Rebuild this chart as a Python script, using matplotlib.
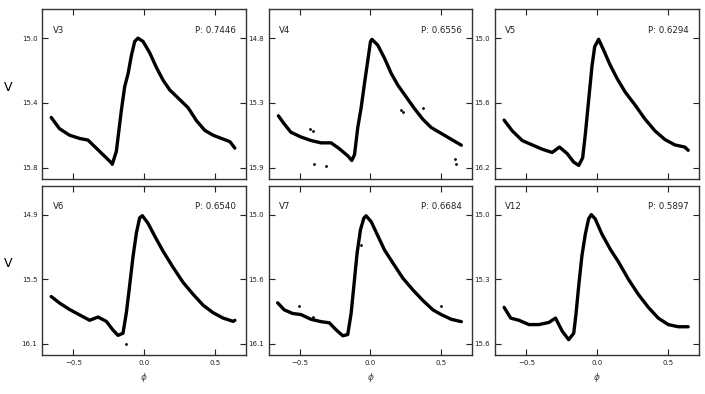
import numpy as np
import matplotlib
matplotlib.use('Agg')
import matplotlib.pyplot as plt

names = ['V3', 'V4', 'V5', 'V6', 'V7', 'V12']
periods = ['0.7446', '0.6556', '0.6294', '0.6540', '0.6684', '0.5897']

# y tick positions and labels for each panel (magnitude axis is inverted)
yticks = [[15.0, 15.4, 15.8], [14.8, 15.35, 15.9], [15.0, 15.6, 16.2],
          [14.9, 15.5, 16.1], [15.0, 15.55, 16.1], [15.0, 15.3, 15.6]]
ytick_labels = [['15.0', '15.4', '15.8'], ['14.8', '15.3', '15.9'], ['15.0', '15.6', '16.2'],
                ['14.9', '15.5', '16.1'], ['15.0', '15.6', '16.1'], ['15.0', '15.3', '15.6']]

# light curves: phase, V magnitude
phase_v3 = [-0.657, -0.598, -0.527, -0.456, -0.397, -0.338, -0.279, -0.232, -0.225, -0.196,
            -0.161, -0.137, -0.113, -0.09, -0.066, -0.043, -0.007, 0.04, 0.087, 0.135, 0.182,
            0.253, 0.312, 0.371, 0.43, 0.489, 0.548, 0.608, 0.643]
mag_v3 = [15.49, 15.56, 15.60, 15.62, 15.63, 15.68, 15.73, 15.77, 15.78, 15.70,
          15.45, 15.30, 15.22, 15.11, 15.02, 15.00, 15.02, 15.09, 15.18, 15.26, 15.32,
          15.38, 15.43, 15.51, 15.57, 15.60, 15.62, 15.64, 15.68]

phase_v4 = [-0.652, -0.61, -0.563, -0.492, -0.421, -0.35, -0.279, -0.22, -0.161, -0.132,
            -0.113, -0.09, -0.066, -0.043, -0.019, 0.0, 0.01, 0.052, 0.099, 0.147, 0.194,
            0.253, 0.312, 0.371, 0.43, 0.501, 0.572, 0.643]
mag_v4 = [15.46, 15.53, 15.60, 15.64, 15.67, 15.69, 15.69, 15.74, 15.80, 15.84,
          15.79, 15.56, 15.39, 15.19, 14.99, 14.83, 14.81, 14.86, 14.97, 15.10, 15.20,
          15.30, 15.40, 15.49, 15.56, 15.61, 15.66, 15.71]

phase_v5 = [-0.657, -0.599, -0.528, -0.458, -0.387, -0.317, -0.265, -0.211, -0.164, -0.129,
            -0.101, -0.082, -0.059, -0.035, -0.016, 0.012, 0.047, 0.094, 0.141, 0.2, 0.27,
            0.34, 0.411, 0.481, 0.552, 0.622, 0.646]
mag_v5 = [15.76, 15.86, 15.95, 15.99, 16.03, 16.06, 16.01, 16.07, 16.15, 16.18,
          16.11, 15.89, 15.58, 15.26, 15.08, 15.01, 15.11, 15.25, 15.37, 15.50, 15.62,
          15.75, 15.86, 15.94, 15.99, 16.01, 16.04]

phase_v6 = [-0.657, -0.598, -0.527, -0.456, -0.385, -0.326, -0.267, -0.22, -0.184, -0.149,
            -0.125, -0.102, -0.078, -0.054, -0.031, -0.012, 0.028, 0.076, 0.135, 0.206,
            0.277, 0.348, 0.418, 0.489, 0.56, 0.631, 0.643]
mag_v6 = [15.66, 15.72, 15.78, 15.83, 15.88, 15.85, 15.89, 15.97, 16.02, 16.00,
          15.81, 15.56, 15.29, 15.07, 14.93, 14.91, 14.98, 15.10, 15.24, 15.39,
          15.53, 15.64, 15.74, 15.81, 15.86, 15.89, 15.88]

phase_v7 = [-0.657, -0.61, -0.552, -0.492, -0.421, -0.35, -0.291, -0.243, -0.196, -0.161,
            -0.137, -0.118, -0.095, -0.071, -0.047, -0.031, 0.005, 0.052, 0.099, 0.158,
            0.229, 0.3, 0.371, 0.442, 0.501, 0.572, 0.643]
mag_v7 = [15.75, 15.81, 15.84, 15.85, 15.89, 15.91, 15.92, 15.98, 16.03, 16.02,
          15.84, 15.61, 15.33, 15.13, 15.03, 15.01, 15.06, 15.18, 15.30, 15.41,
          15.54, 15.64, 15.73, 15.81, 15.85, 15.89, 15.91]

phase_v12 = [-0.657, -0.61, -0.552, -0.481, -0.411, -0.34, -0.293, -0.246, -0.2, -0.164,
             -0.148, -0.129, -0.106, -0.082, -0.059, -0.04, -0.012, 0.035, 0.094, 0.153,
             0.223, 0.293, 0.364, 0.434, 0.505, 0.575, 0.646]
mag_v12 = [15.43, 15.48, 15.49, 15.51, 15.51, 15.50, 15.48, 15.54, 15.58, 15.55,
           15.46, 15.33, 15.19, 15.09, 15.02, 15.00, 15.02, 15.09, 15.16, 15.22,
           15.30, 15.37, 15.43, 15.48, 15.51, 15.52, 15.52]

# stray points off the main curve
out_phase_v4 = [-0.43, -0.41, -0.397, -0.314, 0.217, 0.23, 0.371, 0.608, 0.6]
out_mag_v4 = [15.57, 15.59, 15.87, 15.89, 15.41, 15.43, 15.39, 15.87, 15.83]
out_phase_v6 = [-0.13]
out_mag_v6 = [16.10]
out_phase_v7 = [-0.504, -0.41, -0.066, 0.501]
out_mag_v7 = [15.78, 15.87, 15.26, 15.78]

phases = [phase_v3, phase_v4, phase_v5, phase_v6, phase_v7, phase_v12]
mags = [mag_v3, mag_v4, mag_v5, mag_v6, mag_v7, mag_v12]
out_phases = [[], out_phase_v4, [], out_phase_v6, out_phase_v7, []]
out_mags = [[], out_mag_v4, [], out_mag_v6, out_mag_v7, []]

fig, axes = plt.subplots(2, 3, figsize=(7.05, 3.94), dpi=100, sharex=True)
fig.subplots_adjust(left=0.06, right=0.991, top=0.977, bottom=0.099, wspace=0.113, hspace=0.041)

for i, ax in enumerate(axes.flat):
    ax.plot(phases[i], mags[i], '-', color='k', lw=2.4, solid_capstyle='round',
            solid_joinstyle='round')
    ax.plot(out_phases[i], out_mags[i], '.', color='k', ms=2)
    t = yticks[i]
    r = t[2] - t[0]
    ax.set_ylim(t[2] + 0.085 * r, t[0] - 0.225 * r)
    ax.set_yticks(t)
    ax.set_yticklabels(ytick_labels[i])
    ax.set_xlim(-0.72, 0.72)
    ax.set_xticks([-0.5, 0.0, 0.5])
    ax.tick_params(direction='in', top=True, right=True, length=4, labelsize=5,
                   colors='#222222', width=0.8)
    for s in ax.spines.values():
        s.set_color('#333333')
        s.set_linewidth(1.0)
    ax.text(0.05, 0.86, names[i], transform=ax.transAxes, fontsize=6.2, color='#222222')
    ax.text(0.95, 0.86, 'P: ' + periods[i], transform=ax.transAxes, fontsize=6.2,
            color='#222222', ha='right')
    if i % 3 == 0:
        ax.set_ylabel('V', fontsize=9, rotation=0, labelpad=10)
    if i >= 3:
        ax.set_xlabel(r'$\phi$', fontsize=6.5, color='#444444')

fig.savefig('out.png', dpi=100)
